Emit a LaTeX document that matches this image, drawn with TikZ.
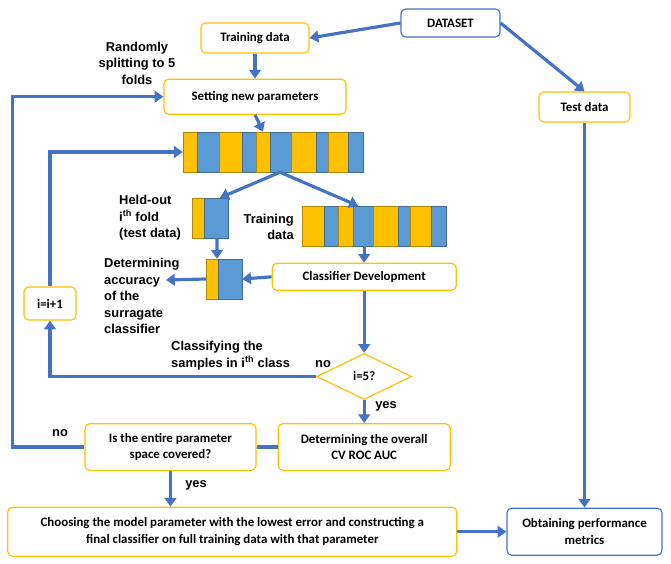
\documentclass[tikz,border=0pt]{standalone}
\usepackage{fontspec}
\newfontfamily\boxfont{Carlito}
\newfontfamily\lblfont{Liberation Sans}
\usepackage{tikz}
\usetikzlibrary{positioning}
\usetikzlibrary{shapes.geometric}
\usetikzlibrary{arrows.meta}
\definecolor{boxO}{HTML}{FFC000}
\definecolor{lineB}{HTML}{4472C4}
\definecolor{foldO}{HTML}{FFC000}
\definecolor{foldB}{HTML}{5B9BD5}

\begin{document}
\begin{tikzpicture}[x=0.03cm,y=-0.03cm,
	box/.style={rectangle,draw=boxO,fill=white,line width=1pt,rounded corners=4pt,align=center,inner sep=2pt,font=\boxfont\bfseries\fontsize{11}{14}\selectfont},
	bluebox/.style={box,draw=lineB},
	lbl/.style={align=left,inner sep=0pt,font=\lblfont\bfseries\fontsize{11}{14}\selectfont},
	bar/.style={rectangle,inner sep=0pt,minimum height=12mm},
	flow/.style={draw=lineB,line width=2.7pt},
	>={Triangle[length=7.5pt,width=10pt]}
	]
	\useasboundingbox (0,0) rectangle (671,564);

	\foreach \a/\b/\c in {183/197/foldO,197/219/foldB,219/242/foldO,242/256/foldB,256/270/foldO,270/291/foldB,291/316/foldO,316/328/foldB,328/348/foldO,348/363/foldB}
		\draw [fill=\c,draw=\c!70!black] (\a,132) rectangle (\b,172);
	\foreach \a/\b/\c in {192/204/foldO,204/228/foldB}
		\draw [fill=\c,draw=\c!70!black] (\a,198) rectangle (\b,238);
	\foreach \a/\b/\c in {302/324/foldO,324/338/foldB,338/353/foldO,353/373/foldB,373/398/foldO,398/410/foldB,410/431/foldO,431/446/foldB}
		\draw [fill=\c,draw=\c!70!black] (\a,206) rectangle (\b,246);
	\foreach \a/\b/\c in {206/218/foldO,218/242/foldB}
		\draw [fill=\c,draw=\c!70!black] (\a,259) rectangle (\b,299);

	\node [bar,minimum width=54mm] (foldbar)		at (273,152)	{};
	\node [bar,minimum width=10.8mm] (heldout)	at (210,218)	{};
	\node [bar,minimum width=43.2mm] (trainbar)	at (374,226)	{};
	\node [bar,minimum width=10.8mm] (smallbar)	at (224,279)	{};

	\node [bluebox,minimum width=29.7mm,minimum height=8.4mm] (dataset)	at (450.5,23)	{DATASET};
	\node [box,minimum width=32.4mm,minimum height=9mm] (train)		at (255,38)	{Training data};
	\node [box,minimum width=54.6mm,minimum height=10.5mm] (setting)	[below=7.5mm of train]	{Setting new parameters};
	\node [box,minimum width=27.3mm,minimum height=9mm] (test)		at (584.5,107)	{Test data};
	\node [bluebox,minimum width=46.5mm,minimum height=14.1mm] (metrics)	[below=115.5mm of test]	{Obtaining performance\\metrics};
	\node [box,minimum width=134.7mm,minimum height=14.7mm] (choosing)	[left=14.7mm of metrics]	{Choosing the model parameter with the lowest error and constructing a\\final classifier on full training data with that parameter};
	\node [box,minimum width=51.3mm,minimum height=14mm] (covered)	at (170.5,447)	{Is the entire parameter\\space covered?};
	\node [box,minimum width=51.6mm,minimum height=14mm] (overall)	[right=6.3mm of covered]	{Determining the overall\\CV ROC AUC};
	\node [diamond,draw=boxO,fill=white,line width=1pt,inner sep=0pt,minimum width=28.5mm,minimum height=13.8mm,font=\boxfont\bfseries\fontsize{11}{14}\selectfont] (decide)	[above=6.9mm of overall]	{i=5?};
	\node [box,minimum width=55.2mm,minimum height=8.1mm] (classifier)	[above=18.6mm of decide]	{Classifier Development};
	\node [box,minimum width=15.6mm,minimum height=9.9mm] (incr)		at (50,303.5)	{i=i+1};

	\node [lbl,align=center] (split)			at (137,63)	{Randomly\\splitting to 5\\folds};
	\node [lbl,anchor=west] (heldlbl)		at (119,218)	{Held-out\\i\textsuperscript{th} fold\\(test data)};
	\node [lbl,anchor=east,align=right] (trainlbl)	at (294,227)	{Training\\data};
	\node [lbl,anchor=west] (acclbl)		at (104,296)	{Determining\\accuracy\\of the\\surragate\\classifier};
	\node [lbl,anchor=west] (classlbl)		at (171,355.5)	{Classifying the\\samples in i\textsuperscript{th} class};
	\node [lbl] (no1)					at (323,364)	{no};
	\node [lbl] (yes1)					at (386,406)	{yes};
	\node [lbl] (no2)					at (60,433)	{no};
	\node [lbl] (yes2)					at (196,485)	{yes};
	\coordinate (acctip)				at (166,280);

	\draw [->] (dataset.west) [flow]			to (train.east);
	\draw [->] (dataset.east) [flow]			to (test.north);
	\draw [->] (train) [flow]				to (setting);
	\draw [->] (setting.south) [flow]			to ([xshift=-3mm]foldbar.north);
	\draw [->] ([xshift=2.1mm]foldbar.south) [flow]	to ([xshift=3mm]heldout.north);
	\draw [->] ([xshift=2.1mm]foldbar.south) [flow]	to ([xshift=-4.8mm]trainbar.north);
	\draw [->] ([xshift=2.1mm]heldout.south) [flow]	to ([xshift=-2.1mm]smallbar.north);
	\draw [->] (trainbar.south -| classifier.north) [flow]	to (classifier.north);
	\draw [->] (classifier.west) [flow]			to (smallbar.east);
	\draw [->] (smallbar.west) [flow]			to (acctip);
	\draw [->] (classifier) [flow]			to (decide);
	\draw [->] (decide.west) [flow]			-| (incr.south);
	\draw [->] (incr.north) [flow]			|- (foldbar.west);
	\draw [->] (decide) [flow]				to (overall);
	\draw (overall) [flow]					to (covered);
	\draw [->] (covered.west) [flow]			-- ++(-72,0) |- (setting.west);
	\draw [->] (covered.south) [flow]			to (covered.south |- choosing.north);
	\draw [->] (choosing) [flow]				to (metrics);
	\draw [->] (test) [flow]				to (metrics);

\end{tikzpicture}
\end{document}
